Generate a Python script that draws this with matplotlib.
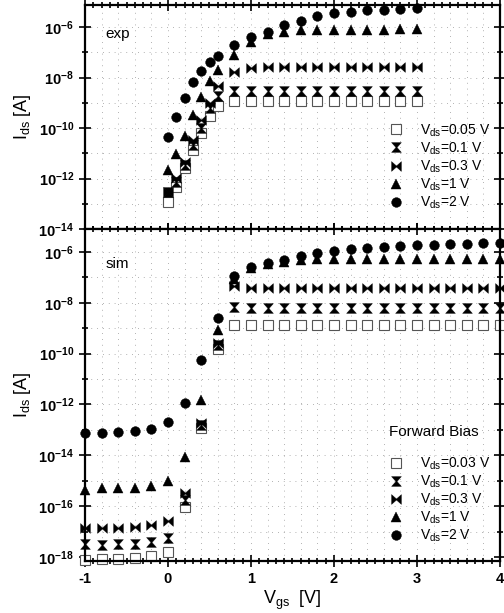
import numpy as np
import matplotlib
matplotlib.use("Agg")
import matplotlib.pyplot as plt

plt.rcParams['font.family'] = ['Liberation Sans', 'DejaVu Sans']
plt.rcParams['mathtext.default'] = 'regular'
plt.rcParams['axes.unicode_minus'] = False

# ---- data: log10(I_ds) ----
# exp panel
vgs_exp = [0.0, 0.1, 0.2, 0.3, 0.4, 0.5, 0.6, 0.8, 1.0, 1.2, 1.4, 1.6,
           1.8, 2.0, 2.2, 2.4, 2.6, 2.8, 3.0]
exp_labels = ['0.05', '0.1', '0.3', '1', '2']
exp_log = [
    [-12.93, -12.33, -11.6, -10.87, -10.2, -9.53, -9.13, -8.93, -8.93, -8.93,
     -8.93, -8.93, -8.93, -8.93, -8.93, -8.93, -8.93, -8.93, -8.93],
    [-12.53, -12.13, -11.47, -10.67, -10.0, -9.2, -8.73, -8.53, -8.53, -8.53,
     -8.53, -8.53, -8.53, -8.53, -8.53, -8.53, -8.53, -8.53, -8.53],
    [-12.53, -11.96, -11.33, -10.47, -9.67, -9.0, -8.33, -7.76, -7.6, -7.58,
     -7.57, -7.57, -7.57, -7.57, -7.57, -7.57, -7.57, -7.57, -7.57],
    [-11.66, -11.04, -10.3, -9.48, -8.76, -8.13, -7.69, -7.09, -6.6, -6.27,
     -6.2, -6.12, -6.1, -6.1, -6.1, -6.1, -6.1, -6.08, -6.07],
    [-10.37, -9.57, -8.8, -8.17, -7.73, -7.36, -7.13, -6.72, -6.4, -6.2,
     -5.93, -5.76, -5.56, -5.44, -5.4, -5.33, -5.3, -5.28, -5.22],
]

# sim panel
vgs_sim = [-1.0, -0.8, -0.6, -0.4, -0.2, 0.0, 0.2, 0.4, 0.6, 0.8, 1.0, 1.2,
           1.4, 1.6, 1.8, 2.0, 2.2, 2.4, 2.6, 2.8, 3.0, 3.2, 3.4, 3.6, 3.8, 4.0]
sim_labels = ['0.03', '0.1', '0.3', '1', '2']
sim_log = [
    [-18.13, -18.1, -18.07, -18.03, -17.96, -17.8, -16.05, -12.93, -9.81,
     -8.89, -8.89, -8.89, -8.89, -8.89, -8.89, -8.89, -8.89, -8.89, -8.89,
     -8.89, -8.89, -8.89, -8.89, -8.89, -8.89, -8.89],
    [-17.5, -17.54, -17.5, -17.5, -17.43, -17.24, -15.76, -12.8, -9.68,
     -8.16, -8.2, -8.2, -8.2, -8.2, -8.2, -8.2, -8.2, -8.2, -8.2, -8.2,
     -8.2, -8.2, -8.2, -8.2, -8.2, -8.2],
    [-16.88, -16.86, -16.86, -16.84, -16.75, -16.58, -15.47, -12.74, -9.58,
     -7.34, -7.41, -7.41, -7.41, -7.41, -7.41, -7.41, -7.41, -7.41, -7.41,
     -7.41, -7.41, -7.41, -7.41, -7.41, -7.41, -7.41],
    [-15.37, -15.3, -15.3, -15.28, -15.21, -15.01, -14.05, -11.84, -9.09,
     -7.08, -6.62, -6.46, -6.38, -6.32, -6.29, -6.29, -6.29, -6.29, -6.29,
     -6.29, -6.29, -6.29, -6.29, -6.29, -6.29, -6.29],
    [-13.13, -13.13, -13.09, -13.05, -12.97, -12.71, -11.95, -10.26, -8.62,
     -6.95, -6.58, -6.42, -6.32, -6.18, -6.05, -5.96, -5.87, -5.83, -5.79,
     -5.76, -5.74, -5.71, -5.69, -5.68, -5.67, -5.66],
]

# ---- marker shapes ----
hourglass = [(-1, 1), (1, 1), (0.1, 0), (1, -1), (-1, -1), (-0.1, 0), (-1, 1)]
bowtie = [(-1, 1), (0, 0.1), (1, 1), (1, -1), (0, -0.1), (-1, -1), (-1, 1)]
styles = [
    dict(marker='s', ms=6.5, mfc='white', mec='#555555', mew=0.8),
    dict(marker=hourglass, ms=7, mfc='black', mec='black', mew=0.3),
    dict(marker=bowtie, ms=7, mfc='black', mec='black', mew=0.3),
    dict(marker='^', ms=6.5, mfc='black', mec='black', mew=0.3),
    dict(marker='o', ms=7, mfc='black', mec='black', mew=0.3),
]

fig = plt.figure(figsize=(5.04, 6.13), dpi=100)
ax1 = fig.add_axes([85 / 504, 1 - 229 / 613, 415 / 504, 224 / 613])
ax2 = fig.add_axes([85 / 504, 1 - 561 / 613, 415 / 504, 332 / 613])


def style_axis(ax, dec_lo, dec_hi, ylo, yhi, show_xlabels):
    ax.set_yscale('log')
    ax.set_xlim(-1, 4)
    ax.set_ylim(10.0 ** ylo, 10.0 ** yhi)
    major = list(range(dec_lo, dec_hi + 1, 2))
    minor = list(range(dec_lo + 1, dec_hi, 2))
    ax.set_yticks([10.0 ** d for d in major])
    ax.set_yticklabels(['10$^{%d}$' % d for d in major])
    ax.set_yticks([10.0 ** d for d in minor], minor=True)
    ax.set_yticklabels([], minor=True)
    ax.set_xticks([-1, 0, 1, 2, 3, 4])
    ax.set_xticks(np.arange(-1, 4.01, 0.1), minor=True)
    if not show_xlabels:
        ax.set_xticklabels([])
    ax.tick_params(which='both', direction='inout', top=True, right=True,
                   width=1.2, labelsize=10.5)
    ax.tick_params(which='major', length=9)
    ax.tick_params(which='minor', length=5)
    for lab in ax.get_xticklabels() + ax.get_yticklabels():
        lab.set_fontweight('bold')
    for s in ax.spines.values():
        s.set_linewidth(1.6)
    # sparse dotted grid, one dotted line every 0.2 V and every decade
    for xv in np.arange(-0.8, 4.0, 0.2):
        ax.axvline(xv, color='#999999', linestyle=(0, (1, 6)), linewidth=0.6,
                   zorder=0)
    for d in range(dec_lo + 1, dec_hi + 1):
        ax.axhline(10.0 ** d, color='#999999', linestyle=(0, (1, 6)),
                   linewidth=0.6, zorder=0)
    ax.set_ylabel('I$_{ds}$ [A]', fontsize=13, labelpad=4)


for i in range(5):
    ax1.plot(vgs_exp, 10.0 ** np.array(exp_log[i]), linestyle='none',
             clip_on=False, label='V$_{ds}$=%s V' % exp_labels[i], **styles[i])
    ax2.plot(vgs_sim, 10.0 ** np.array(sim_log[i]), linestyle='none',
             clip_on=False, label='V$_{ds}$=%s V' % sim_labels[i], **styles[i])

style_axis(ax1, -14, -6, -14, -5.12, False)
style_axis(ax2, -18, -6, -18.16, -5.1, True)
ax2.set_xlabel('V$_{gs}$  [V]', fontsize=13, labelpad=2)

ax1.text(0.05, 0.87, 'exp', transform=ax1.transAxes, fontsize=11,
         ha='left', va='center')
ax2.text(0.05, 0.895, 'sim', transform=ax2.transAxes, fontsize=11,
         ha='left', va='center')
ax2.text(0.84, 0.39, 'Forward Bias', transform=ax2.transAxes, fontsize=11,
         ha='center', va='center')

leg_kw = dict(frameon=False, fontsize=10, handlelength=1.0, handletextpad=1.2,
              labelspacing=0.12, borderpad=0.2, loc='upper left')
ax1.legend(bbox_to_anchor=(0.71, 0.52), **leg_kw)
ax2.legend(bbox_to_anchor=(0.71, 0.347), **leg_kw)

fig.savefig('out.png', dpi=100)
